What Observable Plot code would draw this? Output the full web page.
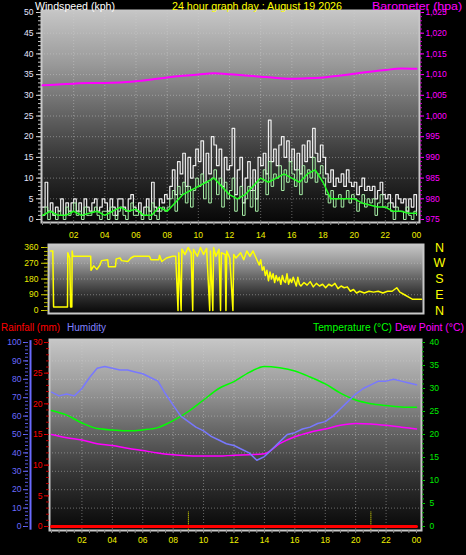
<!DOCTYPE html>
<html><head><meta charset="utf-8">
<script src="https://cdn.jsdelivr.net/npm/d3@7"></script>
<script src="https://cdn.jsdelivr.net/npm/@observablehq/plot@0.6"></script>
<style>
html,body{margin:0;padding:0;background:#000;}
#wrap{position:relative;width:466px;height:555px;background:#000;overflow:hidden;font-family:"Liberation Sans",Arial,sans-serif;}
</style></head><body><div id="wrap"></div>
<script>
// ---------- text ----------
const titleMain = "24 hour graph day : August 19 2026";
const titleWind = "Windspeed (kph)";
const titleBaro = "Barometer (hpa)";
const titleRain = "Rainfall (mm)";
const titleHum = "Humidity";
const titleTemp = "Temperature (°C)";
const titleDew = "Dew Point (°C)";
const compassLetters = ["N", "W", "S", "E", "N"];
const compassDeg = [360, 270, 180, 90, 0];

// ---------- tick values ----------
const hourLabels = [2, 4, 6, 8, 10, 12, 14, 16, 18, 20, 22, 24];
const hourGrid = [2, 4, 6, 8, 10, 12, 14, 16, 18, 20, 22];
const halfHours = d3.range(0, 24.01, 0.5);
const windTicks = [0, 5, 10, 15, 20, 25, 30, 35, 40, 45, 50];
const windGrid = [5, 10, 15, 20, 25, 30, 35, 40, 45];
const windMinor = d3.range(0, 50.01, 1);
const baroOffset = 975;
const dirTicks = [0, 90, 180, 270, 360];
const dirMinor = d3.range(0, 360.01, 22.5);
const humTicks = [0, 10, 20, 30, 40, 50, 60, 70, 80, 90, 100];
const humGrid = [10, 20, 30, 40, 50, 60, 70, 80, 90];
const humMinor = d3.range(0, 100.01, 2);
const rainTicks = [0, 5, 10, 15, 20, 25, 30];
const rainMinor = d3.range(0, 30.01, 1);
const tempTicks = [0, 5, 10, 15, 20, 25, 30, 35, 40];
const tempMinor = d3.range(0, 40.01, 1);

// ---------- wind (10-minute samples, kph) ----------
const windGust = [
 3,9,2,4,1,3, 2,5,1,4,2,4, 5,2,4,1,5,3, 2,4,5,2,3,5, 4,2,5,3,1,5, 5,3,2,5,6,3,
 2,4,1,3,5,2, 9,3,2,5,4,6, 5,8,12,6,14,11, 16,8,15,10,13,17, 14,19,9,16,11,20, 18,13,17,8,15,12,
 13,22,6,12,15,4, 10,14,7,12,5,15, 13,16,11,24,14,17, 13,18,20,15,19,14, 17,12,16,11,18,14, 19,15,22,16,14,18,
 15,11,9,12,8,10, 9,11,8,12,9,8, 9,6,8,10,7,8, 7,8,5,7,9,6, 5,6,4,3,6,5, 4,5,2,5,3,6, 2];
const windSpeed = [
 1,3,0,2,1,0, 2,1,0,3,1,2, 4,1,2,0,3,1, 1,2,3,1,0,2, 2,0,3,1,0,2, 3,1,0,2,4,1,
 1,2,0,1,3,0, 4,1,0,2,3,2, 3,5,7,2,8,6, 9,4,8,3,7,10, 8,11,5,9,4,10, 12,6,10,3,9,5,
 7,10,2,5,8,1, 5,8,3,7,2,9, 9,12,6,14,8,11, 10,13,7,12,9,14, 11,8,12,6,13,9, 12,10,15,9,11,13,
 10,6,4,7,3,5, 6,3,5,7,4,6, 5,2,4,6,3,5, 4,5,1,4,6,3, 3,4,2,0,3,2, 2,0,3,1,0,2, 1];
// half-hourly average wind
const windAvg = [1,2,1,1,2,1,1.5,2,1,2, 3,2,2.5,1,1,3,2,4,6,7, 8,9,10,8,6,5,6,8,10,9,
 10,11,10,9,11,12,9,5,5,5, 5,4,3.5,3,3,2,2,1.5,1.5];
// hourly barometer (hPa)
const baro = [1007.4,1007.6,1007.8,1008.0,1008.0,1008.1,1008.4,1008.8,1009.3,1009.7,1010.0,1010.3,
 1010.1,1009.8,1009.5,1009.2,1009.0,1009.1,1009.3,1009.7,1010.2,1010.7,1011.1,1011.5,1011.4];

// ---------- wind direction (hour, degrees) ----------
const dirHour = [0,0.15,0.2,1.1,1.12,1.25,1.3,1.38,1.4,1.45,2.6,2.62,2.8,3.0,3.2,3.3,3.7,3.75,4.2,4.25,
 4.5,4.6,5.0,5.2,5.4,6.4,6.5,7.0,7.05,7.2,7.5,7.9,8.1,8.25,8.3,8.45,8.5,8.7,8.9,9.1,
 9.2,9.25,9.5,9.7,9.9,10.1,10.3,10.35,10.5,10.55,10.7,10.9,11.0,11.05,11.3,11.35,11.4,11.6,11.8,11.85,
 12.0,12.3,12.5,12.7,12.9,13.1,13.3,13.5,13.6,13.7,13.8,13.9,14.0,14.1,14.2,14.3,14.4,14.5,14.6,14.7,
 14.8,14.9,15.0,15.1,15.2,15.3,15.4,15.5,15.6,15.7,15.8,15.9,16.0,16.1,16.2,16.4,16.6,16.8,17.0,17.2,
 17.4,17.6,17.8,18.0,18.2,18.4,18.6,18.8,19.0,19.2,19.4,19.6,19.8,20.0,20.3,20.6,20.9,21.2,21.5,21.8,
 22.1,22.4,22.6,22.9,23.2,23.4,24.0];
const dirDeg = [340,340,20,20,330,300,20,20,340,310,310,230,255,235,260,285,290,250,250,295,
 300,285,280,300,310,310,290,290,315,280,300,310,310,0,330,0,350,320,360,330,
 0,350,310,360,320,355,0,340,0,360,310,350,0,330,320,0,340,300,0,320,
 300,330,290,340,310,340,300,260,290,230,250,200,230,170,220,180,210,160,200,170,
 190,150,200,170,160,210,150,180,160,190,165,140,190,150,140,160,145,165,135,155,
 140,150,130,150,140,155,125,140,130,135,110,120,100,110,100,110,105,110,100,110,
 110,130,105,90,75,65,65];

// ---------- bottom panel ----------
const humidity = [73,71,72,71,75,81,86,87,86,85, 85,84,83,81,79,72,66,60,57,54,
 52,49,47,45,44,42,40,36,38,42, 46,50,51,53,54,56,57,60,64,68, 72,75,77,79,79,80,79,78,77];
const temperature = [25.2,24.2,22.5,21.3,21.0,20.8,21.0,21.5,23.0,25.0,27.5,30.0,31.5,33.5,34.8,34.5,
 33.8,32.5,31.0,29.0,27.5,26.7,26.3,26.0,25.9];
const dewPoint = [20.0,19.3,18.8,18.0,17.6,17.0,16.5,16.0,15.6,15.4,15.3,15.3,15.5,15.6,15.8,18.0,
 19.5,20.5,21.2,22.0,22.4,22.3,22.0,21.6,21.2];
const rainfall = [0,0,0,0,0,0,0,0,0,0,0,0,0,0,0,0,0,0,0,0,0,0,0,0,0];
const markerHours = [9, 21];

// ---------- build ----------
const wrap = document.getElementById("wrap");
const NS = "http://www.w3.org/2000/svg";
const FONT = "Liberation Sans, Arial, sans-serif";
const baseStyle = {background: "transparent", fontFamily: FONT, fontSize: "8px", color: "#ddd", overflow: "visible"};

function place(svg, top, gid, stops) {
  svg.style.position = "absolute";
  svg.style.left = "0px";
  svg.style.top = top + "px";
  const defs = document.createElementNS(NS, "defs");
  defs.innerHTML = `<linearGradient id="${gid}" x1="0" y1="0" x2="0" y2="1">` +
    stops.map(([o, c]) => `<stop offset="${o}" stop-color="${c}"/>`).join("") + `</linearGradient>`;
  svg.insertBefore(defs, svg.firstChild);
  wrap.appendChild(svg);
}
const gradStops = [[0, "#c6c6c6"], [0.25, "#9a9a9a"], [0.45, "#6c6c6c"], [0.7, "#363636"], [0.9, "#161616"], [1, "#070707"]];
const gridStyle = {stroke: "#d0d0d0", strokeOpacity: 0.45, strokeDasharray: "1,2"};
const hourFmt = d => String(d % 24).padStart(2, "0");

const tIdx = (arr, step) => arr.map((v, i) => ({t: i * step, v}));
const gustData = tIdx(windGust, 1 / 6);
const speedData = tIdx(windSpeed, 1 / 6);
const avgData = tIdx(windAvg, 0.5);
const baroData = tIdx(baro, 1);

// top panel
const topChart = Plot.plot({
  width: 466, height: 245,
  marginTop: 10, marginBottom: 23, marginLeft: 41, marginRight: 47,
  x: {domain: [0, 24], range: [42, 416], label: null},
  y: {domain: [0, 50], range: [219, 12], label: null},
  style: baseStyle,
  marks: [
    Plot.frame({fill: "url(#gTop)", stroke: "#c8c8c8", strokeWidth: 2}),
    Plot.gridY({ticks: windGrid, ...gridStyle}),
    Plot.gridX({ticks: hourGrid, ...gridStyle}),
    Plot.line(gustData, {x: "t", y: "v", stroke: "#eeeeee", strokeWidth: 1.2, curve: "step-after"}),
    Plot.line(speedData, {x: "t", y: "v", stroke: "#a8f0a8", strokeWidth: 1, curve: "step-after"}),
    Plot.line(avgData, {x: "t", y: "v", stroke: "#22ff22", strokeWidth: 1.5}),
    Plot.line(baroData, {x: "t", y: d => d.v - baroOffset, stroke: "#ff00ff", strokeWidth: 2, curve: "monotone-x"}),
    Plot.axisY({ticks: windTicks, anchor: "left", tickSize: 5, tickPadding: 3, stroke: "#d8d8d8", fill: "#e6e6ff", fontSize: 8.5, label: null}),
    Plot.axisY({ticks: windMinor, anchor: "left", tickSize: 3, stroke: "#c8c8c8", fill: "none", label: null}),
    Plot.axisY({ticks: windTicks, anchor: "right", tickSize: 4, tickPadding: 2, tickFormat: d => d + baroOffset, stroke: "#ff00ff", fill: "#ff00ff", fontSize: 8.5, label: null}),
    Plot.axisY({ticks: windMinor, anchor: "right", tickSize: 2, stroke: "#cc00cc", fill: "none", label: null}),
    Plot.axisX({ticks: hourLabels, anchor: "bottom", tickSize: 0, tickPadding: 9, tickFormat: hourFmt, fill: "#f0f000", fontSize: 8.5, label: null}),
    Plot.axisX({ticks: halfHours, anchor: "bottom", tickSize: 3, stroke: "#8a8a8a", fill: "none", label: null})
  ]
});
place(topChart, 0, "gTop", gradStops);

// direction panel
const dirData = dirHour.map((t, i) => ({t, v: dirDeg[i]}));
const compass = compassLetters.map((s, i) => ({s, d: compassDeg[i]}));
const dirChart = Plot.plot({
  width: 466, height: 82,
  marginTop: 6, marginBottom: 7, marginLeft: 48, marginRight: 43,
  x: {domain: [0, 24], range: [50, 421], label: null, axis: null},
  y: {domain: [0, 360], range: [72, 9], label: null},
  style: baseStyle,
  marks: [
    Plot.frame({fill: "url(#gDir)", stroke: "#c8c8c8", strokeWidth: 2}),
    Plot.gridY({ticks: [90, 180, 270], ...gridStyle}),
    Plot.line(dirData, {x: "t", y: "v", stroke: "#ffff00", strokeWidth: 1.5}),
    Plot.axisY({ticks: dirTicks, anchor: "left", tickSize: 7, tickPadding: 3, stroke: "#d0d000", fill: "#e8e800", fontSize: 8.5, label: null}),
    Plot.axisY({ticks: dirMinor, anchor: "left", tickSize: 4, stroke: "#b0b000", fill: "none", label: null}),
    Plot.text(compass, {x: 24, y: "d", text: "s", dx: 18, fill: "#ffff00", fontSize: 12.5, fontFamily: FONT})
  ]
});
place(dirChart, 238, "gDir", gradStops);

// bottom panel (y scale in humidity %, other series mapped onto it)
const humData = tIdx(humidity, 0.5);
const tempData = tIdx(temperature, 1);
const dewData = tIdx(dewPoint, 1);
const rainData = tIdx(rainfall, 1);
const rainK = 100 / 30, tempK = 100 / 40;
const botChart = Plot.plot({
  width: 466, height: 225,
  marginTop: 9, marginBottom: 25, marginLeft: 49, marginRight: 45,
  x: {domain: [0, 24], range: [51, 416], label: null},
  y: {domain: [0, 100], range: [196, 12], label: null},
  style: baseStyle,
  marks: [
    Plot.frame({fill: "url(#gBot)", stroke: "#c8c8c8", strokeWidth: 2}),
    Plot.gridY({ticks: humGrid, ...gridStyle}),
    Plot.gridX({ticks: hourGrid, ...gridStyle}),
    Plot.ruleX(markerHours, {y1: -2, y2: 8, stroke: "#ffff00", strokeDasharray: "1,1"}),
    Plot.line(dewData, {x: "t", y: d => d.v * tempK, stroke: "#ff00ff", strokeWidth: 1.5, curve: "monotone-x"}),
    Plot.line(tempData, {x: "t", y: d => d.v * tempK, stroke: "#00ff00", strokeWidth: 1.5, curve: "monotone-x"}),
    Plot.line(humData, {x: "t", y: "v", stroke: "#7878ff", strokeWidth: 1.5}),
    Plot.line(rainData, {x: "t", y: d => d.v * rainK, stroke: "#ff0000", strokeWidth: 3}),
    // humidity axis (outer left) with its blue bar
    Plot.ruleX([0], {dx: -21, y1: -2, y2: 101, stroke: "#6a6aff", strokeWidth: 2}),
    Plot.axisY({ticks: humTicks, anchor: "left", dx: -21, tickSize: 5, tickPadding: 2, stroke: "#6a6aff", fill: "#6a6aff", fontSize: 8.5, label: null}),
    Plot.axisY({ticks: humMinor, anchor: "left", dx: -21, tickSize: 3, stroke: "#5a5ae0", fill: "none", label: null}),
    // rainfall axis (inner left)
    Plot.axisY({ticks: rainTicks.map(r => r * rainK), anchor: "left", tickSize: 5, tickPadding: 2, tickFormat: d => Math.round(d / rainK), stroke: "#e00000", fill: "#ff0000", fontSize: 8.5, label: null}),
    Plot.axisY({ticks: rainMinor.map(r => r * rainK), anchor: "left", tickSize: 3, stroke: "#c00000", fill: "none", label: null}),
    // temperature axis (right)
    Plot.axisY({ticks: tempTicks.map(t => t * tempK), anchor: "right", tickSize: 3, tickPadding: 5, tickFormat: d => Math.round(d / tempK), stroke: "#00d000", fill: "#00ee00", fontSize: 8.5, label: null}),
    Plot.axisY({ticks: tempMinor.map(t => t * tempK), anchor: "right", tickSize: 2, stroke: "#00b000", fill: "none", label: null}),
    Plot.axisX({ticks: hourLabels, anchor: "bottom", tickSize: 0, tickPadding: 6, tickFormat: hourFmt, fill: "#f0f000", fontSize: 8.5, label: null}),
    Plot.axisX({ticks: halfHours, anchor: "bottom", tickSize: 3, stroke: "#8a8a8a", fill: "none", label: null})
  ]
});
place(botChart, 330, "gBot", gradStops);

// titles
const ov = d3.create("svg").attr("width", 466).attr("height", 555)
  .style("position", "absolute").style("left", "0px").style("top", "0px")
  .style("font-family", FONT).style("pointer-events", "none");
function txt(s, x, y, color, size, len) {
  const t = ov.append("text").attr("x", x).attr("y", y).attr("fill", color).attr("font-size", size).text(s);
  if (len) t.attr("textLength", len).attr("lengthAdjust", "spacingAndGlyphs");
}
txt(titleWind, 35, 9.5, "#ffffff", 11, 80);
txt(titleMain, 172, 9.5, "#ffff00", 11, 170);
txt(titleBaro, 372, 9.5, "#ff00ff", 11, 90);
txt(titleRain, 1, 331, "#ff0000", 10, 59);
txt(titleHum, 67, 331, "#8080ff", 10, 39);
txt(titleTemp, 313, 331, "#00ff00", 10, 79);
txt(titleDew, 395, 331, "#ff00ff", 10, 69);
wrap.appendChild(ov.node());
</script></body></html>
